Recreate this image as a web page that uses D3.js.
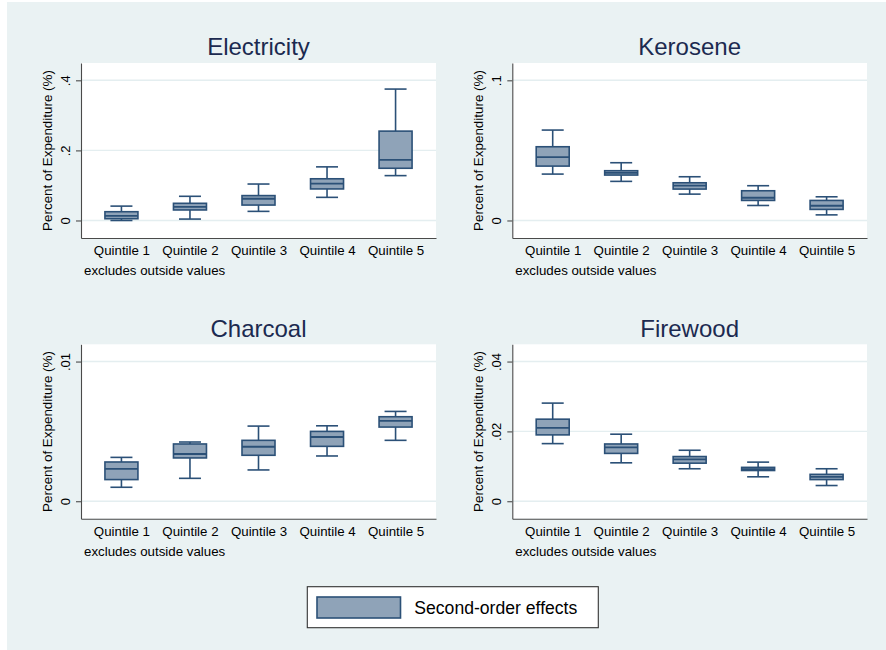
<!DOCTYPE html>
<html>
<head>
<meta charset="utf-8">
<script src="https://cdn.jsdelivr.net/npm/d3@7"></script>
<style>
  html, body { margin: 0; padding: 0; background: #ffffff; }
  svg { display: block; font-family: "Liberation Sans", Arial, Helvetica, sans-serif; }
</style>
</head>
<body>
<svg id="chart" width="886" height="650"></svg>
<script>
// ---------------- Data ----------------
const categories = ["Quintile 1", "Quintile 2", "Quintile 3", "Quintile 4", "Quintile 5"];
const panelTitles = ["Electricity", "Kerosene", "Charcoal", "Firewood"];
const legendLabel = "Second-order effects";
const yAxisTitle = "Percent of Expenditure (%)";
const noteText = "excludes outside values";

// [lower whisker, Q1, median, Q3, upper whisker] per quintile
const electricityStats = [
  [0.000, 0.005, 0.013, 0.025, 0.041],
  [0.004, 0.030, 0.039, 0.049, 0.069],
  [0.026, 0.044, 0.062, 0.071, 0.104],
  [0.066, 0.090, 0.105, 0.119, 0.153],
  [0.128, 0.149, 0.173, 0.255, 0.375]
];
const keroseneStats = [
  [0.0331, 0.0388, 0.0452, 0.0526, 0.0645],
  [0.0279, 0.0324, 0.0340, 0.0355, 0.0412],
  [0.0188, 0.0224, 0.0248, 0.0269, 0.0312],
  [0.0107, 0.0143, 0.0162, 0.0212, 0.0248],
  [0.0040, 0.0079, 0.0105, 0.0143, 0.0169]
];
const charcoalStats = [
  [0.00100, 0.00155, 0.00231, 0.00281, 0.00314],
  [0.00164, 0.00310, 0.00338, 0.00410, 0.00424],
  [0.00224, 0.00329, 0.00390, 0.00436, 0.00538],
  [0.00324, 0.00393, 0.00460, 0.00500, 0.00540],
  [0.00436, 0.00531, 0.00576, 0.00605, 0.00643]
];
const firewoodStats = [
  [0.0165, 0.0190, 0.0210, 0.0235, 0.0281],
  [0.0110, 0.0137, 0.0154, 0.0164, 0.0192],
  [0.0093, 0.0109, 0.0120, 0.0128, 0.0146],
  [0.0070, 0.0088, 0.0092, 0.0097, 0.0112],
  [0.0045, 0.0062, 0.0070, 0.0077, 0.0093]
];

const electricityTicks = [0, 0.2, 0.4];
const electricityTickLabels = ["0", ".2", ".4"];
const keroseneTicks = [0, 0.1];
const keroseneTickLabels = ["0", ".1"];
const charcoalTicks = [0, 0.01];
const charcoalTickLabels = ["0", ".01"];
const firewoodTicks = [0, 0.02, 0.04];
const firewoodTickLabels = ["0", ".02", ".04"];
const axisMax = [0.4, 0.1, 0.01, 0.04];

// ---------------- Drawing ----------------
const statsList = [electricityStats, keroseneStats, charcoalStats, firewoodStats];
const ticksList = [electricityTicks, keroseneTicks, charcoalTicks, firewoodTicks];
const tickLabelList = [electricityTickLabels, keroseneTickLabels, charcoalTickLabels, firewoodTickLabels];

const svg = d3.select("#chart");
const BG = "#eaf2f3";
const FILL = "#8fa3b8";
const STROKE = "#2b5077";
const TITLE = "#1c2a50";
const TXT = "#000000";
const SW = 1.6;

svg.append("rect").attr("x", 7).attr("y", 2).attr("width", 879).attr("height", 648).attr("fill", BG);

const plotX = [[81, 436], [512.3, 867], [81, 436], [512.3, 867]];
const plotY = [[63, 238], [63, 238], [344.3, 518.7], [344.3, 518.7]];
const titleY = [55, 55, 336.7, 336.7];

panelTitles.forEach((title, p) => {
  const [x0, x1] = plotX[p];
  const [yTop, yBot] = plotY[p];
  const m = axisMax[p];
  const y = d3.scaleLinear().domain([-0.125 * m, 1.1235 * m]).range([yBot, yTop]);
  const x = d3.scalePoint().domain(categories).range([x0, x1]).padding(0.59);
  const g = svg.append("g");

  // plot region
  g.append("rect").attr("x", x0).attr("y", yTop).attr("width", x1 - x0).attr("height", yBot - yTop).attr("fill", "#ffffff");

  // gridlines
  g.selectAll(".grid").data(ticksList[p]).join("line")
    .attr("x1", x0).attr("x2", x1)
    .attr("y1", d => y(d)).attr("y2", d => y(d))
    .attr("stroke", "#e4eef0").attr("stroke-width", 1.4);

  // title
  g.append("text").attr("x", (x0 + x1) / 2).attr("y", titleY[p])
    .attr("text-anchor", "middle").attr("font-size", 24).attr("fill", TITLE).text(title);

  // boxes
  const bw = 33, cw = 22;
  const stats = statsList[p];
  const bx = g.selectAll(".box").data(stats).join("g");
  bx.append("line")
    .attr("x1", (d, i) => x(categories[i])).attr("x2", (d, i) => x(categories[i]))
    .attr("y1", d => y(d[0])).attr("y2", d => y(d[1]))
    .attr("stroke", STROKE).attr("stroke-width", SW);
  bx.append("line")
    .attr("x1", (d, i) => x(categories[i])).attr("x2", (d, i) => x(categories[i]))
    .attr("y1", d => y(d[3])).attr("y2", d => y(d[4]))
    .attr("stroke", STROKE).attr("stroke-width", SW);
  bx.append("line")
    .attr("x1", (d, i) => x(categories[i]) - cw / 2).attr("x2", (d, i) => x(categories[i]) + cw / 2)
    .attr("y1", d => y(d[0])).attr("y2", d => y(d[0]))
    .attr("stroke", STROKE).attr("stroke-width", SW);
  bx.append("line")
    .attr("x1", (d, i) => x(categories[i]) - cw / 2).attr("x2", (d, i) => x(categories[i]) + cw / 2)
    .attr("y1", d => y(d[4])).attr("y2", d => y(d[4]))
    .attr("stroke", STROKE).attr("stroke-width", SW);
  bx.append("rect")
    .attr("x", (d, i) => x(categories[i]) - bw / 2).attr("width", bw)
    .attr("y", d => y(d[3])).attr("height", d => y(d[1]) - y(d[3]))
    .attr("fill", FILL).attr("stroke", STROKE).attr("stroke-width", SW);
  bx.append("line")
    .attr("x1", (d, i) => x(categories[i]) - bw / 2).attr("x2", (d, i) => x(categories[i]) + bw / 2)
    .attr("y1", d => y(d[2])).attr("y2", d => y(d[2]))
    .attr("stroke", STROKE).attr("stroke-width", 1.8);

  // y axis
  const ya = g.append("g").attr("transform", `translate(${x0},0)`)
    .call(d3.axisLeft(y).tickValues(ticksList[p]).tickFormat((d, i) => tickLabelList[p][i]).tickSize(5).tickSizeOuter(0));
  ya.select(".domain").attr("stroke", "#4a4a4a").attr("stroke-width", 1.1);
  ya.selectAll(".tick line").attr("stroke", "#4a4a4a").attr("stroke-width", 1.1);
  ya.selectAll(".tick text")
    .attr("transform", "rotate(-90)")
    .attr("x", 0).attr("y", -11).attr("dy", 0)
    .attr("text-anchor", "middle")
    .attr("font-size", 13).attr("fill", TXT)
    .style("font-family", "\"Liberation Sans\", Arial, sans-serif");

  // x axis
  const xa = g.append("g").attr("transform", `translate(0,${yBot})`)
    .call(d3.axisBottom(x).tickSize(0).tickSizeOuter(0));
  xa.select(".domain").attr("stroke", "#4a4a4a").attr("stroke-width", 1.1);
  xa.selectAll(".tick text")
    .attr("y", 17).attr("dy", 0)
    .attr("font-size", 13.3).attr("fill", TXT)
    .style("font-family", "\"Liberation Sans\", Arial, sans-serif");

  // axis title
  g.append("text")
    .attr("transform", `translate(${x0 - 29.5},${(yTop + yBot) / 2}) rotate(-90)`)
    .attr("text-anchor", "middle").attr("font-size", 13.4).attr("fill", TXT).text(yAxisTitle);

  // note
  g.append("text").attr("x", x0 + 3).attr("y", yBot + 37)
    .attr("font-size", 13.3).attr("fill", TXT).text(noteText);
});

// legend
const lg = svg.append("g");
lg.append("rect").attr("x", 307.3).attr("y", 586.7).attr("width", 291).attr("height", 41)
  .attr("fill", "#ffffff").attr("stroke", "#333").attr("stroke-width", 1.1);
lg.append("rect").attr("x", 317).attr("y", 597).attr("width", 83.5).attr("height", 21)
  .attr("fill", FILL).attr("stroke", STROKE).attr("stroke-width", SW);
lg.append("text").attr("x", 414.3).attr("y", 614.3).attr("font-size", 17.6).attr("fill", TXT).text(legendLabel);
</script>
</body>
</html>
